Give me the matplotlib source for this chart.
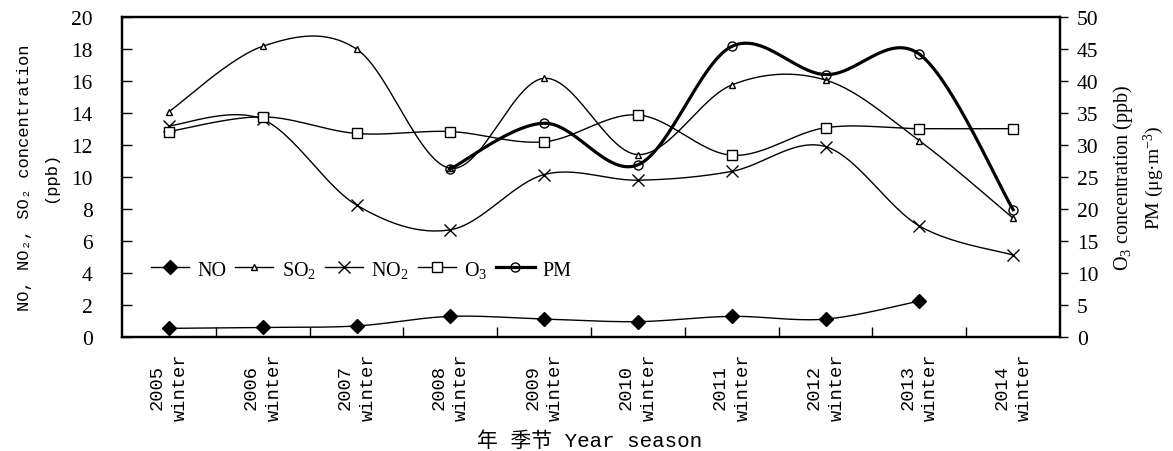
import numpy as np
import matplotlib
matplotlib.use("Agg")
import matplotlib.pyplot as plt
from matplotlib.lines import Line2D

plt.rcParams["mathtext.fontset"] = "custom"
plt.rcParams["mathtext.rm"] = "Liberation Serif"
plt.rcParams["mathtext.it"] = "Liberation Serif:italic"
plt.rcParams["font.family"] = ["Liberation Serif", "DejaVu Serif"]

# ----------------------------
# Data
# ----------------------------
years = ["2005", "2006", "2007", "2008", "2009", "2010", "2011", "2012", "2013", "2014"]
season = "winter"

# left axis (ppb)
no_vals  = [0.54, 0.60, 0.69, 1.29, 1.12, 0.96, 1.29, 1.12, 2.25, np.nan]
so2_vals = [14.08, 18.17, 18.0, 10.54, 16.17, 11.4, 15.75, 16.06, 12.27, 7.42]
no2_vals = [13.2, 13.6, 8.25, 6.7, 10.15, 9.8, 10.35, 11.9, 6.94, 5.12]

# right axis
o3_vals = [32.1, 34.4, 31.8, 32.1, 30.5, 34.7, 28.4, 32.7, 32.55, 32.55]
pm_vals = [np.nan, np.nan, np.nan, 26.25, 33.4, 26.9, 45.4, 41.0, 44.2, 19.9]


# ----------------------------
# Helpers
# ----------------------------
def smooth_curve(x, y, n=30):
    """Excel-like smoothed line (Catmull-Rom as cubic Bezier) through valid points."""
    x = np.asarray(x, float)
    y = np.asarray(y, float)
    ok = ~np.isnan(y)
    x, y = x[ok], y[ok]
    pts = np.column_stack([x, y])
    out = [pts[0]]
    t = np.linspace(0, 1, n)[1:, None]
    for i in range(len(pts) - 1):
        p0 = pts[i - 1] if i > 0 else pts[i]
        p1, p2 = pts[i], pts[i + 1]
        p3 = pts[i + 2] if i + 2 < len(pts) else pts[i + 1]
        c1 = p1 + (p2 - p0) / 6.0
        c2 = p2 - (p3 - p1) / 6.0
        seg = ((1 - t) ** 3) * p1 + 3 * ((1 - t) ** 2) * t * c1 + 3 * (1 - t) * t ** 2 * c2 + t ** 3 * p2
        out.extend(seg)
    out = np.array(out)
    return out[:, 0], out[:, 1]


def draw(ax, y, marker, ms, lw, mfc):
    x = np.arange(len(y))
    sx, sy = smooth_curve(x, y)
    ax.plot(sx, sy, color="black", lw=lw, zorder=3)
    ax.plot(x, y, ls="none", marker=marker, ms=ms, mfc=mfc, mec="black",
            mew=1.0, zorder=4)


# ----------------------------
# Figure
# ----------------------------
fig = plt.figure(figsize=(11.73, 4.52), dpi=100)
ax = fig.add_axes([0.104, 0.2522, 0.7997, 0.708])
ax2 = ax.twinx()

x = np.arange(len(years))

draw(ax, no_vals, "D", 7, 1.0, "black")
draw(ax, so2_vals, "^", 5, 1.0, "white")
draw(ax, no2_vals, "x", 8, 1.0, "black")
draw(ax2, o3_vals, "s", 7, 1.0, "white")
draw(ax2, pm_vals, "o", 6.5, 2.3, "none")

ax.set_xlim(-0.5, len(years) - 0.5)
ax.set_ylim(0, 20)
ax2.set_ylim(0, 50)
ax.set_yticks(np.arange(0, 21, 2))
ax2.set_yticks(np.arange(0, 51, 5))

# x: boundary ticks (inward), labels at the category centres
ax.set_xticks(np.arange(0.5, len(years) - 0.5, 1.0))
ax.set_xticklabels([])
ax.set_xticks(x, minor=True)
ax.set_xticklabels([f"{yr}\n{season}" for yr in years], minor=True,
                   rotation=90, family=["Liberation Mono", "DejaVu Sans Mono"],
                   fontsize=13.5, multialignment="center", linespacing=1.45)
ax.tick_params(axis="x", which="major", direction="in", length=7, width=1.0)
ax.tick_params(axis="x", which="minor", length=0, pad=11)

ax.tick_params(axis="y", direction="in", length=7, width=1.0, labelsize=15.5, pad=21)
ax2.tick_params(axis="y", direction="out", length=6, width=1.0, labelsize=15.5, pad=6)

for a in (ax, ax2):
    for s in a.spines.values():
        s.set_linewidth(1.6)

# axis titles
fig.text(0.032, 0.607, "NO, NO\u2082, SO\u2082 concentration\n(ppb)", rotation=90,
         ha="center", va="center", multialignment="center", fontsize=12.3,
         linespacing=2.0, family=["Liberation Mono", "DejaVu Sans Mono"])
fig.text(0.957, 0.607, r"O$_3$ concentration (ppb)", rotation=90,
         ha="center", va="center", fontsize=14.5)
fig.text(0.984, 0.607, r"PM (μg·m$^{-3}$)", rotation=90,
         ha="center", va="center", fontsize=14)
fig.text(0.503, 0.023, "年 季节 Year season", ha="center", va="center",
         fontsize=15, family=["Liberation Mono", "Noto Sans CJK SC"])

# legend
handles = [
    Line2D([], [], color="black", lw=1.0, marker="D", ms=7, mfc="black", mec="black"),
    Line2D([], [], color="black", lw=1.0, marker="^", ms=5, mfc="white", mec="black"),
    Line2D([], [], color="black", lw=1.0, marker="x", ms=8, mec="black"),
    Line2D([], [], color="black", lw=1.0, marker="s", ms=7, mfc="white", mec="black"),
    Line2D([], [], color="black", lw=2.3, marker="o", ms=6.5, mfc="none", mec="black"),
]
labels = ["NO", r"SO$_2$", r"NO$_2$", r"O$_3$", "PM"]
ax.legend(handles, labels, loc="center left", bbox_to_anchor=(0.022, 0.2125),
          ncol=5, frameon=False, fontsize=14.5, handlelength=1.9,
          handletextpad=0.4, columnspacing=0.45, borderaxespad=0)

fig.savefig("out.png", dpi=100)
